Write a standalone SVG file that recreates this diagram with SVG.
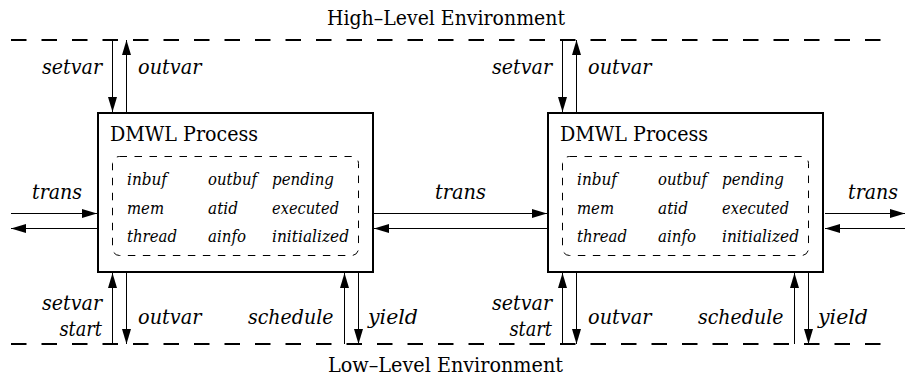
<svg xmlns="http://www.w3.org/2000/svg" width="905" height="381" viewBox="0 0 905 381">
  <style>
    text { font-family: 'DejaVu Serif', serif; fill: #000; }
    .env { font-size: 20px; }
    .title { font-size: 20px; }
    .lbl { font-style: italic; font-size: 20px; }
    .fld { font-style: italic; font-size: 16px; }
    .envline { stroke: #000; stroke-width: 2; stroke-dasharray: 15.5 15; fill: none; }
    .box { fill: #fff; stroke: #000; stroke-width: 2; }
    .inner { fill: none; stroke: #000; stroke-width: 1; stroke-dasharray: 7.5 7.5; }
    .arr { stroke: #000; stroke-width: 1; fill: none; marker-end: url(#head); }
  </style>
  <defs>
    <marker id="head" markerUnits="userSpaceOnUse" markerWidth="15" markerHeight="9" refX="15" refY="4.5" orient="auto">
      <path d="M0,0 L15,4.5 L0,9 z" fill="#000"/>
    </marker>
  </defs>

  <!-- environment boundaries -->
  <g id="high-env">
    <text class="env" x="327" y="25" textLength="238" lengthAdjust="spacingAndGlyphs">High–Level Environment</text>
    <line class="envline" x1="11" y1="40" x2="894" y2="40"/>
  </g>
  <g id="low-env">
    <line class="envline" x1="11" y1="344" x2="894" y2="344"/>
    <text class="env" x="328" y="372" textLength="235" lengthAdjust="spacingAndGlyphs">Low–Level Environment</text>
  </g>

  <!-- process A -->
  <g id="process-a">
    <rect class="box" x="98" y="113" width="275" height="159"/>
    <text class="title" x="110" y="141" textLength="148" lengthAdjust="spacingAndGlyphs">DMWL Process</text>
    <rect class="inner" x="112.5" y="156.5" width="246" height="99" rx="7" ry="7"/>
    <text class="fld" x="127" y="185" textLength="40" lengthAdjust="spacingAndGlyphs">inbuf</text>
    <text class="fld" x="208" y="185" textLength="49" lengthAdjust="spacingAndGlyphs">outbuf</text>
    <text class="fld" x="272" y="185" textLength="62" lengthAdjust="spacingAndGlyphs">pending</text>
    <text class="fld" x="127" y="213.5" textLength="37" lengthAdjust="spacingAndGlyphs">mem</text>
    <text class="fld" x="208" y="213.5" textLength="30" lengthAdjust="spacingAndGlyphs">atid</text>
    <text class="fld" x="272" y="213.5" textLength="67" lengthAdjust="spacingAndGlyphs">executed</text>
    <text class="fld" x="127" y="242" textLength="50" lengthAdjust="spacingAndGlyphs">thread</text>
    <text class="fld" x="208" y="242" textLength="38" lengthAdjust="spacingAndGlyphs">ainfo</text>
    <text class="fld" x="272" y="242" textLength="77" lengthAdjust="spacingAndGlyphs">initialized</text>
  </g>

  <!-- process B -->
  <g id="process-b">
    <rect class="box" x="548" y="113" width="275" height="159"/>
    <text class="title" x="560" y="141" textLength="148" lengthAdjust="spacingAndGlyphs">DMWL Process</text>
    <rect class="inner" x="562.5" y="156.5" width="246" height="99" rx="7" ry="7"/>
    <text class="fld" x="577" y="185" textLength="40" lengthAdjust="spacingAndGlyphs">inbuf</text>
    <text class="fld" x="658" y="185" textLength="49" lengthAdjust="spacingAndGlyphs">outbuf</text>
    <text class="fld" x="722" y="185" textLength="62" lengthAdjust="spacingAndGlyphs">pending</text>
    <text class="fld" x="577" y="213.5" textLength="37" lengthAdjust="spacingAndGlyphs">mem</text>
    <text class="fld" x="658" y="213.5" textLength="30" lengthAdjust="spacingAndGlyphs">atid</text>
    <text class="fld" x="722" y="213.5" textLength="67" lengthAdjust="spacingAndGlyphs">executed</text>
    <text class="fld" x="577" y="242" textLength="50" lengthAdjust="spacingAndGlyphs">thread</text>
    <text class="fld" x="658" y="242" textLength="38" lengthAdjust="spacingAndGlyphs">ainfo</text>
    <text class="fld" x="722" y="242" textLength="77" lengthAdjust="spacingAndGlyphs">initialized</text>
  </g>

  <!-- connectors -->
  <g id="connectors">
    <!-- process A, upper side -->
    <line class="arr" x1="112.5" y1="40" x2="112.5" y2="112"/>
    <line class="arr" x1="126.5" y1="112" x2="126.5" y2="40"/>
    <!-- process A, lower side -->
    <line class="arr" x1="112.5" y1="344" x2="112.5" y2="273"/>
    <line class="arr" x1="126.5" y1="273" x2="126.5" y2="344"/>
    <line class="arr" x1="344.5" y1="344" x2="344.5" y2="273"/>
    <line class="arr" x1="358.5" y1="273" x2="358.5" y2="344"/>
    <!-- process B, upper side -->
    <line class="arr" x1="562.5" y1="40" x2="562.5" y2="112"/>
    <line class="arr" x1="576.5" y1="112" x2="576.5" y2="40"/>
    <!-- process B, lower side -->
    <line class="arr" x1="562.5" y1="344" x2="562.5" y2="273"/>
    <line class="arr" x1="576.5" y1="273" x2="576.5" y2="344"/>
    <line class="arr" x1="794.5" y1="344" x2="794.5" y2="273"/>
    <line class="arr" x1="808.5" y1="273" x2="808.5" y2="344"/>
    <!-- trans links -->
    <line class="arr" x1="11" y1="213.5" x2="97" y2="213.5"/>
    <line class="arr" x1="97" y1="228.5" x2="11" y2="228.5"/>
    <line class="arr" x1="374" y1="213.5" x2="547" y2="213.5"/>
    <line class="arr" x1="547" y1="228.5" x2="374" y2="228.5"/>
    <line class="arr" x1="825" y1="213.5" x2="905" y2="213.5"/>
    <line class="arr" x1="905" y1="228.5" x2="825" y2="228.5"/>

    <!-- labels -->
    <text class="lbl" x="42" y="74" textLength="60" lengthAdjust="spacingAndGlyphs">setvar</text>
    <text class="lbl" x="138" y="74" textLength="63.5" lengthAdjust="spacingAndGlyphs">outvar</text>
    <text class="lbl" x="492" y="74" textLength="60" lengthAdjust="spacingAndGlyphs">setvar</text>
    <text class="lbl" x="588" y="74" textLength="63.5" lengthAdjust="spacingAndGlyphs">outvar</text>

    <text class="lbl" x="32" y="199" textLength="50" lengthAdjust="spacingAndGlyphs">trans</text>
    <text class="lbl" x="435" y="199" textLength="51" lengthAdjust="spacingAndGlyphs">trans</text>
    <text class="lbl" x="848" y="199" textLength="50" lengthAdjust="spacingAndGlyphs">trans</text>

    <text class="lbl" x="42" y="310" textLength="60" lengthAdjust="spacingAndGlyphs">setvar</text>
    <text class="lbl" x="59.5" y="336" textLength="42.5" lengthAdjust="spacingAndGlyphs">start</text>
    <text class="lbl" x="138" y="324" textLength="63.5" lengthAdjust="spacingAndGlyphs">outvar</text>
    <text class="lbl" x="248" y="324" textLength="85.5" lengthAdjust="spacingAndGlyphs">schedule</text>
    <text class="lbl" x="368" y="324" textLength="50" lengthAdjust="spacingAndGlyphs">yield</text>

    <text class="lbl" x="492" y="310" textLength="60" lengthAdjust="spacingAndGlyphs">setvar</text>
    <text class="lbl" x="509.5" y="336" textLength="42.5" lengthAdjust="spacingAndGlyphs">start</text>
    <text class="lbl" x="588" y="324" textLength="63.5" lengthAdjust="spacingAndGlyphs">outvar</text>
    <text class="lbl" x="698" y="324" textLength="85.5" lengthAdjust="spacingAndGlyphs">schedule</text>
    <text class="lbl" x="818" y="324" textLength="50" lengthAdjust="spacingAndGlyphs">yield</text>
  </g>
</svg>
